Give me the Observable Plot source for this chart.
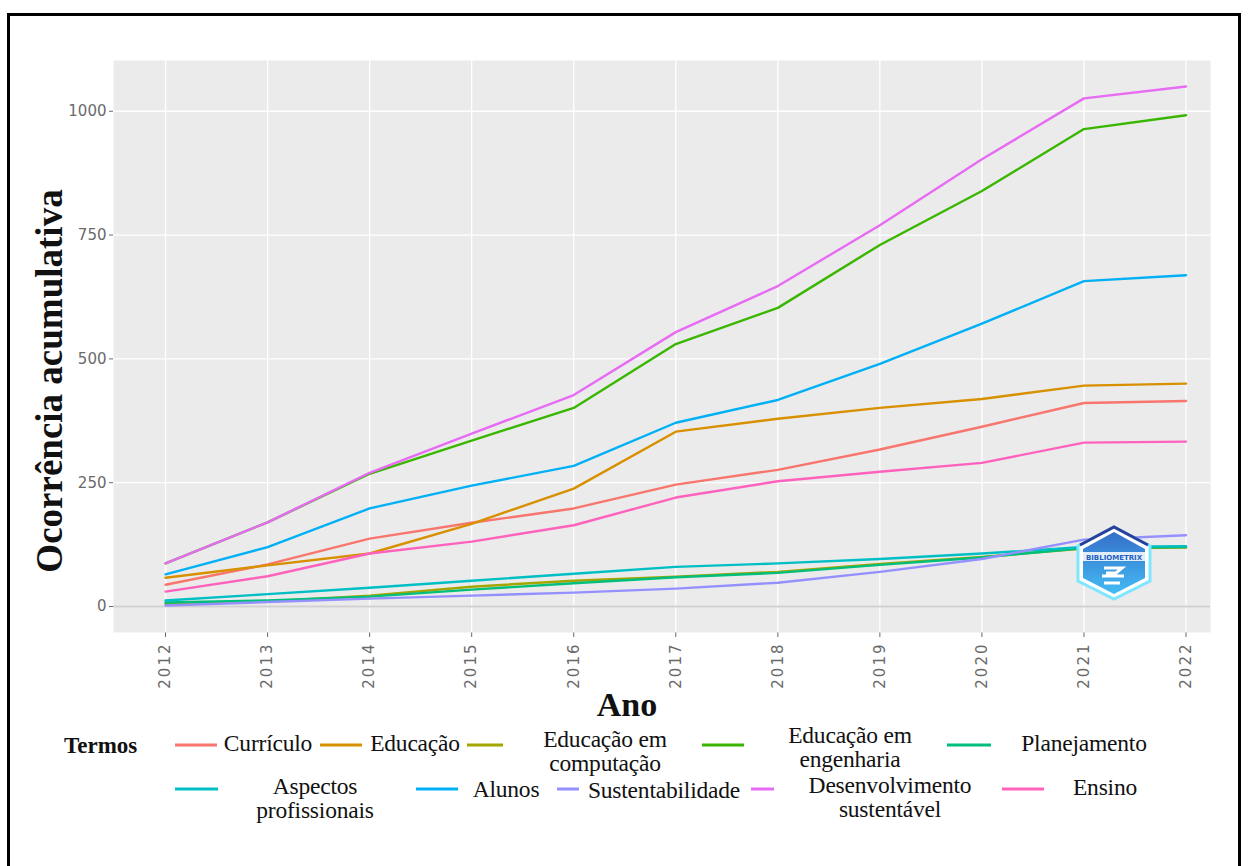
<!DOCTYPE html>
<html>
<head>
<meta charset="utf-8">
<script src="https://cdn.jsdelivr.net/npm/d3@7"></script>
<script src="https://cdn.jsdelivr.net/npm/@observablehq/plot@0.6"></script>
<style>
  html, body { margin: 0; padding: 0; background: #fff; }
  #page { position: relative; width: 1248px; height: 866px; overflow: hidden; }
  #border { position: absolute; left: 7px; top: 13px; width: 1234px; height: 900px; border: 3px solid #000; box-sizing: border-box; }
  #chart { position: absolute; left: 0; top: 0; }
  .serif { font-family: "Liberation Serif", "DejaVu Serif", serif !important; color: #111; }
  .ytitle { position: absolute; left: 50px; top: 381px; transform: translate(-50%, -50%) rotate(-90deg); white-space: nowrap; font-size: 37px; font-weight: bold; line-height: 30px; }
  .xtitle { position: absolute; left: 627px; top: 705px; transform: translate(-50%, -50%); font-size: 34px; font-weight: bold; line-height: 24px; }
  .leg-title { position: absolute; left: 64px; top: 746px; transform: translateY(-50%); font-size: 23px; font-weight: bold; }
  .key { position: absolute; height: 3px; transform: translateY(-50%); }
  .lab { position: absolute; transform: translate(-50%, -50%); text-align: center; font-size: 23.5px; line-height: 24px; white-space: nowrap; letter-spacing: -0.2px; }
  #chart g[aria-label="x-axis tick label"] text { letter-spacing: 2px; }
</style>
</head>
<body>
<div id="page">
  <div id="border"></div>
  <div id="chart"></div>
</div>
<script>
// ---- data ----
const years = [2012, 2013, 2014, 2015, 2016, 2017, 2018, 2019, 2020, 2021, 2022];
const terms = ["Currículo", "Educação", "Educação em computação", "Educação em engenharia", "Planejamento",
               "Aspectos profissionais", "Alunos", "Sustentabilidade", "Desenvolvimento sustentável", "Ensino"];
const colors = ["#F8766D", "#D89000", "#A3A500", "#39B600", "#00BF7D",
                "#00BFC4", "#00B0F6", "#9590FF", "#E76BF3", "#FF62BC"];
const curriculo        = [44, 85, 137, 169, 198, 246, 276, 317, 363, 411, 415];
const educacao         = [58, 83, 107, 167, 238, 353, 379, 401, 419, 446, 450];
const educComputacao   = [5, 10, 22, 40, 52, 60, 70, 86, 100, 117, 119];
const educEngenharia   = [87, 170, 268, 335, 401, 530, 603, 730, 839, 964, 992];
const planejamento     = [8, 12, 20, 34, 47, 59, 68, 84, 99, 118, 120];
const aspectos         = [12, 25, 38, 52, 66, 80, 87, 96, 107, 120, 122];
const alunos           = [65, 120, 198, 244, 284, 371, 417, 490, 571, 657, 669];
const sustentabilidade = [2, 9, 16, 22, 28, 36, 48, 70, 96, 135, 144];
const desenvolvimento  = [87, 170, 270, 349, 427, 554, 647, 770, 903, 1026, 1050];
const ensino           = [30, 61, 107, 131, 164, 220, 253, 272, 290, 331, 333];
const yTicks = [0, 250, 500, 750, 1000];
const legendLabels = ["Currículo", "Educação", "Educação em<br>computação", "Educação em<br>engenharia", "Planejamento",
                      "Aspectos<br>profissionais", "Alunos", "Sustentabilidade", "Desenvolvimento<br>sustentável", "Ensino"];

const series = [curriculo, educacao, educComputacao, educEngenharia, planejamento,
                aspectos, alunos, sustentabilidade, desenvolvimento, ensino];
const rows = [];
terms.forEach((t, i) => series[i].forEach((v, j) => rows.push({term: t, year: years[j], value: v})));

const chart = Plot.plot({
  width: 1248,
  height: 740,
  marginLeft: 113,
  marginRight: 38,
  marginTop: 60,
  marginBottom: 108,
  style: {background: "transparent", fontFamily: "DejaVu Sans, sans-serif", fontSize: "15px", color: "#6a6a6a"},
  x: {domain: [2011.49, 2022.24], ticks: years, tickFormat: d => String(d), tickRotate: -90, tickSize: 5, tickPadding: 5, label: null},
  y: {domain: [-52.5, 1102.5], ticks: yTicks, tickFormat: d => String(d), tickSize: 4, tickPadding: 3, label: null},
  color: {domain: terms, range: colors},
  marks: [
    Plot.frame({fill: "#EBEBEB", stroke: null}),
    Plot.ruleY(yTicks, {stroke: "#fff", strokeWidth: 1.3}),
    Plot.ruleX(years, {stroke: "#fff", strokeWidth: 1.3}),
    Plot.ruleY([0], {stroke: "#d0d0d0", strokeWidth: 2.2}),
    Plot.lineY(rows, {x: "year", y: "value", z: "term", stroke: "term", strokeWidth: 2.4})
  ]
});
document.getElementById("chart").appendChild(chart);

// ---- titles & legend (HTML) ----
const page = document.getElementById("page");
function addDiv(cls, html, css) {
  const d = document.createElement("div");
  d.className = cls;
  d.innerHTML = html;
  Object.assign(d.style, css || {});
  page.appendChild(d);
  return d;
}
addDiv("serif ytitle", "Ocorrência acumulativa");
addDiv("serif xtitle", "Ano");
addDiv("serif leg-title", "Termos");

// legend layout: [keyLeft, keyWidth, labelCenterX, centerY]
const legendLayout = [
  [175, 42, 268, 743], [320, 42, 415, 743], [467, 36, 605, 751], [702, 42, 850, 747], [947, 44, 1084, 743],
  [175, 43, 315, 798], [416, 42, 506, 789], [557, 22, 664, 790], [751, 23, 890, 797], [1002, 42, 1105, 787]
];
terms.forEach((t, i) => {
  const [kl, kw, cx, cy] = legendLayout[i];
  const keyY = i < 5 ? 745 : 789;
  addDiv("key", "", {left: kl + "px", width: kw + "px", top: keyY + "px", background: colors[i]});
  addDiv("serif lab", legendLabels[i], {left: cx + "px", top: cy + "px"});
});
</script>
<div style="position:absolute;left:1074px;top:524px;">
<svg width="80" height="78" viewBox="0 0 80 78">
  <defs>
    <linearGradient id="lg" x1="0" y1="0" x2="0" y2="1">
      <stop offset="0" stop-color="#1f5fc4"/>
      <stop offset="1" stop-color="#2fb4f2"/>
    </linearGradient>
  </defs>
  <polygon points="40,3 76,22 76,57 40,75 4,57 4,22" fill="#ffffff" stroke="#7fe6ff" stroke-width="3"/>
  <polygon points="40,8 71,25 71,54 40,70 9,54 9,25" fill="url(#lg)" opacity="0.9"/>
  <polyline points="6,21 40,3 74,21" fill="none" stroke="#2a3f9a" stroke-width="3"/>
  <rect x="9" y="28" width="62" height="9" fill="#ffffff" opacity="0.85"/>
  <text x="40" y="35.5" text-anchor="middle" font-family="DejaVu Sans" font-size="7" font-weight="bold" fill="#1f5fc4">BIBLIOMETRIX</text>
  <path d="M30 44 h18 l-6 5 h-10 M28 52 h22 M30 59 h16" stroke="#ffffff" stroke-width="3" fill="none"/>
</svg>
</div>
</body>
</html>
